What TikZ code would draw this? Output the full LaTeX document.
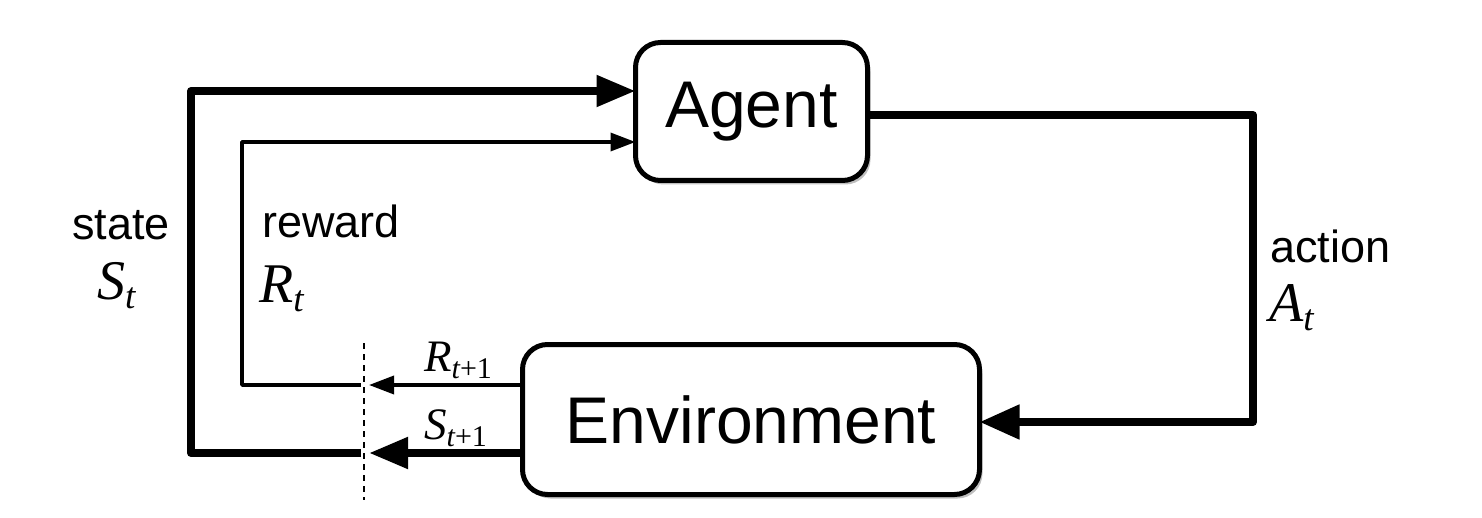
\documentclass[tikz,border=0pt]{standalone}
\usepackage{fontspec}
\setmainfont{Liberation Sans}
\newfontfamily\tms{Liberation Serif}
\usetikzlibrary{arrows.meta,shadows}
\newcommand\mathlbl[4]{{\fontsize{#1}{#1}\tms\itshape #2\raisebox{#4}{\fontsize{#3}{#3}\selectfont t\upshape}}}
\begin{document}
\begin{tikzpicture}[x=1pt,y=-1pt,
  box/.style={draw=black,line width=5pt,rounded corners=25pt,fill=white,outer sep=0pt,
    inner sep=0pt,font=\fontsize{66}{66}\selectfont,
    drop shadow={shadow xshift=3pt,shadow yshift=-4pt,opacity=0.25,fill=black}},
  thickline/.style={line width=8pt,line join=round},
  thinline/.style={line width=3.5pt,line join=round},
  bigtip/.style={-{Triangle[length=39pt,width=30pt]}},
  smalltip/.style={-{Triangle[length=25pt,width=18pt]}},
  lbl/.style={inner sep=0pt,font=\fontsize{45}{45}\selectfont},
  mlbl/.style={inner sep=0pt}]
\useasboundingbox (0,0) rectangle (1482,518);
\node[box,minimum width=232pt,minimum height=138pt] (agent) at (751.5,111.5) {Agent};
\node[box,minimum width=457pt,minimum height=150pt] (env) at (751,419.5) {Environment};
% dashed separator
\coordinate (dtop) at (364,343);
\coordinate (dbot) at (364,500);
\draw[line width=2pt,dash pattern=on 6pt off 5pt] (dtop) -- (dbot);
% reward loop
\coordinate (rtip) at (369,385);
\coordinate (rstart) at (361,385);
\coordinate (rcorner) at (242,385);
\draw[thinline,smalltip] ([yshift=34.5pt]env.west) -- (rtip);
\draw[thinline,smalltip] (rstart) -- (rcorner) |- ([yshift=-30.5pt]agent.west);
% state loop
\coordinate (stip) at (369,453);
\coordinate (sstart) at (361,453);
\coordinate (scorner) at (191,453);
\draw[thickline,bigtip] ([yshift=-33.5pt]env.west) -- (stip);
\draw[thickline,bigtip] (sstart) -- (scorner) |- ([yshift=20.5pt]agent.west);
% action loop
\coordinate (acorner) at (1253,115);
\draw[thickline,-{Triangle[length=40pt,width=33pt]}] ([yshift=-3.5pt]agent.east) -- (acorner) |- ([yshift=-2.5pt]env.east);
% labels
\node[lbl,anchor=base] (tstate) at (121,240) {state};
\node[mlbl,anchor=base west] (vstate) at (97,300) {\mathlbl{56}{S}{37}{-9pt}};
\node[lbl,anchor=base west] (treward) at (262,238) {reward};
\node[mlbl,anchor=base west] (vreward) at (259,303) {\mathlbl{56}{R}{37}{-9pt}};
\node[lbl,anchor=base west] (taction) at (1270,263) {action};
\node[mlbl,anchor=base west] (vaction) at (1269,322) {\mathlbl{56}{A}{37}{-9pt}};
\node[mlbl,anchor=base west] (vr1) at (424,371) {{\fontsize{45}{45}\tms\itshape R\raisebox{-7pt}{\fontsize{30}{30}\selectfont t\upshape +1}}};
\node[mlbl,anchor=base west] (vs1) at (424,439) {{\fontsize{45}{45}\tms\itshape S\raisebox{-7pt}{\fontsize{30}{30}\selectfont t\upshape +1}}};
\end{tikzpicture}
\end{document}
